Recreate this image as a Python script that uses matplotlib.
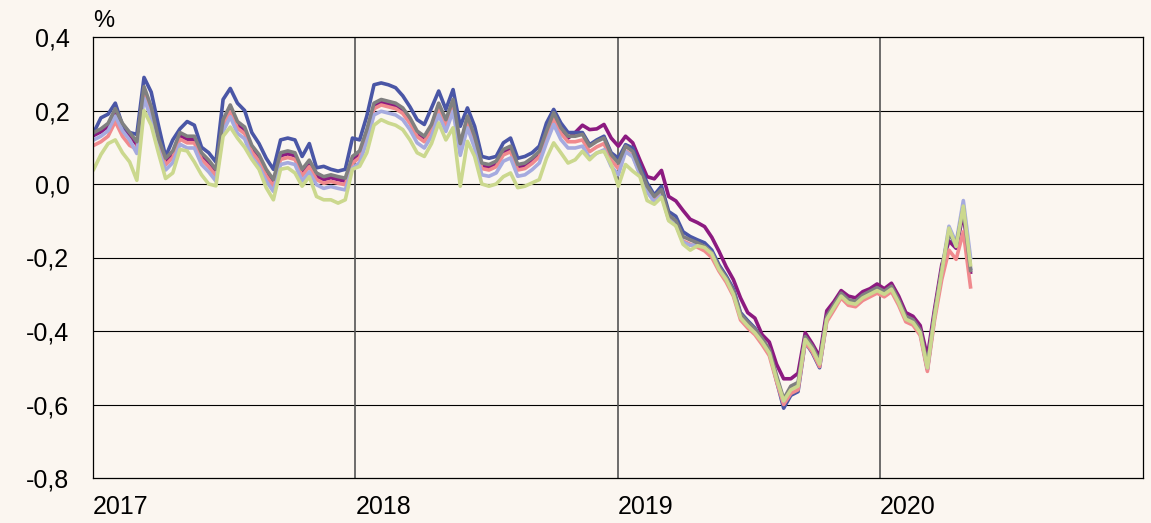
import matplotlib
matplotlib.use("Agg")
import matplotlib.pyplot as plt
import pandas as pd

plt.rcParams['font.family'] = ['Liberation Sans', 'DejaVu Sans']

# dates: one point every 10 days, starting 2 Jan 2017
dates = pd.date_range('2017-01-02', periods=123, freq='10D')

blue = [0.14, 0.18, 0.19, 0.22, 0.16, 0.14, 0.135, 0.29, 0.25, 0.16,
        0.075, 0.12, 0.15, 0.17, 0.16, 0.1, 0.085, 0.06, 0.23, 0.26,
        0.22, 0.2, 0.14, 0.11, 0.07, 0.04, 0.12, 0.125, 0.12, 0.075,
        0.11, 0.044, 0.048, 0.04, 0.035, 0.04, 0.125, 0.12, 0.185, 0.27,
        0.275, 0.27, 0.262, 0.24, 0.21, 0.175, 0.162, 0.207, 0.253, 0.203,
        0.257, 0.157, 0.207, 0.157, 0.075, 0.07, 0.075, 0.112, 0.125, 0.07,
        0.075, 0.085, 0.103, 0.166, 0.203, 0.166, 0.14, 0.14, 0.14, 0.107,
        0.12, 0.13, 0.085, 0.07, 0.107, 0.098, 0.05, 0.003, -0.03, -0.006,
        -0.075, -0.088, -0.13, -0.143, -0.152, -0.16, -0.18, -0.22, -0.25, -0.285,
        -0.35, -0.372, -0.392, -0.425, -0.455, -0.535, -0.61, -0.575, -0.565, -0.43,
        -0.46, -0.5, -0.37, -0.336, -0.305, -0.323, -0.327, -0.31, -0.3, -0.29,
        -0.3, -0.286, -0.323, -0.368, -0.377, -0.405, -0.505, -0.36, -0.24, -0.13,
        -0.17, -0.06, -0.23]

purple = [0.132, 0.142, 0.157, 0.197, 0.157, 0.132, 0.107, 0.257, 0.202, 0.117,
          0.062, 0.082, 0.132, 0.122, 0.122, 0.077, 0.057, 0.032, 0.167, 0.207,
          0.162, 0.147, 0.097, 0.072, 0.032, 0.004, 0.077, 0.082, 0.077, 0.032,
          0.057, 0.022, 0.012, 0.017, 0.012, 0.008, 0.067, 0.082, 0.14, 0.212,
          0.222, 0.217, 0.212, 0.199, 0.172, 0.136, 0.122, 0.154, 0.212, 0.167,
          0.222, 0.102, 0.177, 0.122, 0.049, 0.045, 0.054, 0.086, 0.095, 0.045,
          0.049, 0.063, 0.081, 0.136, 0.186, 0.145, 0.125, 0.14, 0.16, 0.148,
          0.15, 0.162, 0.125, 0.103, 0.13, 0.112, 0.065, 0.02, 0.014, 0.037,
          -0.034, -0.046, -0.072, -0.096, -0.105, -0.116, -0.145, -0.183, -0.225, -0.26,
          -0.31, -0.35, -0.365, -0.41, -0.43, -0.49, -0.53, -0.53, -0.515, -0.405,
          -0.435, -0.47, -0.345, -0.32, -0.29, -0.305, -0.31, -0.293, -0.285, -0.272,
          -0.285, -0.27, -0.305, -0.35, -0.36, -0.385, -0.47, -0.34, -0.22, -0.155,
          -0.175, -0.08, -0.24]

grey = [0.14, 0.15, 0.165, 0.205, 0.165, 0.14, 0.115, 0.265, 0.21, 0.125,
        0.07, 0.09, 0.14, 0.13, 0.13, 0.085, 0.065, 0.04, 0.175, 0.215,
        0.17, 0.155, 0.105, 0.08, 0.04, 0.012, 0.085, 0.09, 0.085, 0.04,
        0.065, 0.03, 0.02, 0.025, 0.02, 0.016, 0.075, 0.09, 0.148, 0.22,
        0.23, 0.225, 0.22, 0.207, 0.18, 0.144, 0.13, 0.162, 0.22, 0.175,
        0.23, 0.11, 0.185, 0.13, 0.057, 0.053, 0.062, 0.094, 0.103, 0.053,
        0.057, 0.071, 0.089, 0.144, 0.194, 0.153, 0.13, 0.13, 0.135, 0.103,
        0.116, 0.125, 0.08, 0.057, 0.103, 0.089, 0.04, -0.006, -0.034, -0.015,
        -0.084, -0.1, -0.143, -0.152, -0.16, -0.17, -0.188, -0.225, -0.255, -0.29,
        -0.354, -0.376, -0.395, -0.42, -0.45, -0.52, -0.585, -0.55, -0.54, -0.415,
        -0.442, -0.482, -0.36, -0.328, -0.297, -0.315, -0.319, -0.302, -0.292, -0.282,
        -0.292, -0.278, -0.315, -0.36, -0.369, -0.397, -0.492, -0.352, -0.232, -0.13,
        -0.165, -0.065, -0.235]

pink = [0.105, 0.115, 0.13, 0.17, 0.13, 0.105, 0.095, 0.245, 0.19, 0.105,
        0.052, 0.072, 0.122, 0.112, 0.112, 0.067, 0.047, 0.022, 0.157, 0.197,
        0.152, 0.137, 0.087, 0.062, 0.022, -0.006, 0.067, 0.072, 0.067, 0.022,
        0.047, 0.012, 0.002, 0.007, 0.002, -0.002, 0.057, 0.072, 0.13, 0.205,
        0.215, 0.21, 0.205, 0.192, 0.165, 0.129, 0.115, 0.147, 0.205, 0.16,
        0.215, 0.095, 0.17, 0.115, 0.042, 0.038, 0.047, 0.079, 0.088, 0.038,
        0.042, 0.056, 0.074, 0.129, 0.179, 0.138, 0.115, 0.115, 0.12, 0.088,
        0.101, 0.11, 0.065, 0.042, 0.09, 0.077, 0.028, -0.018, -0.046, -0.027,
        -0.096, -0.112, -0.155, -0.164, -0.172, -0.182, -0.2, -0.237, -0.267, -0.305,
        -0.37, -0.392, -0.41, -0.437, -0.467, -0.537, -0.6, -0.57, -0.56, -0.43,
        -0.457, -0.497, -0.375, -0.343, -0.31, -0.33, -0.334, -0.317, -0.307, -0.297,
        -0.307, -0.293, -0.33, -0.375, -0.384, -0.412, -0.51, -0.37, -0.26, -0.18,
        -0.205, -0.13, -0.28]

lavender = [0.12, 0.13, 0.145, 0.185, 0.145, 0.12, 0.083, 0.233, 0.178, 0.093,
            0.038, 0.058, 0.108, 0.098, 0.098, 0.053, 0.033, 0.008, 0.143, 0.183,
            0.138, 0.123, 0.073, 0.048, 0.008, -0.02, 0.053, 0.058, 0.053, 0.008,
            0.033, -0.002, -0.012, -0.007, -0.012, -0.016, 0.043, 0.058, 0.116, 0.188,
            0.198, 0.193, 0.188, 0.175, 0.148, 0.112, 0.098, 0.13, 0.188, 0.143,
            0.198, 0.078, 0.153, 0.098, 0.025, 0.021, 0.03, 0.062, 0.071, 0.021,
            0.025, 0.039, 0.057, 0.112, 0.162, 0.121, 0.098, 0.098, 0.103, 0.071,
            0.084, 0.093, 0.048, 0.025, 0.088, 0.074, 0.025, -0.021, -0.049, -0.03,
            -0.097, -0.111, -0.158, -0.167, -0.165, -0.17, -0.187, -0.229, -0.257, -0.297,
            -0.361, -0.383, -0.402, -0.427, -0.457, -0.527, -0.59, -0.557, -0.547, -0.42,
            -0.447, -0.487, -0.365, -0.333, -0.302, -0.32, -0.324, -0.307, -0.297, -0.287,
            -0.297, -0.283, -0.32, -0.365, -0.374, -0.402, -0.5, -0.355, -0.235, -0.115,
            -0.16, -0.045, -0.2]

green = [0.04, 0.08, 0.11, 0.12, 0.085, 0.06, 0.01, 0.2, 0.16, 0.085,
         0.015, 0.03, 0.094, 0.09, 0.06, 0.025, 0.0, -0.005, 0.13, 0.155,
         0.125, 0.1, 0.067, 0.04, -0.01, -0.043, 0.04, 0.044, 0.03, -0.006,
         0.02, -0.034, -0.043, -0.043, -0.052, -0.043, 0.04, 0.048, 0.085, 0.16,
         0.175, 0.166, 0.16, 0.148, 0.12, 0.085, 0.075, 0.11, 0.166, 0.12,
         0.153, -0.006, 0.116, 0.075, 0.0, -0.006, 0.0, 0.02, 0.03, -0.01,
         -0.006, 0.003, 0.012, 0.07, 0.112, 0.085, 0.057, 0.066, 0.089, 0.066,
         0.085, 0.089, 0.053, -0.006, 0.053, 0.035, 0.02, -0.045, -0.055, -0.036,
         -0.1, -0.114, -0.164, -0.18, -0.168, -0.173, -0.19, -0.232, -0.26, -0.3,
         -0.364, -0.386, -0.405, -0.43, -0.46, -0.53, -0.59, -0.56, -0.55, -0.423,
         -0.45, -0.49, -0.368, -0.336, -0.305, -0.323, -0.327, -0.31, -0.3, -0.29,
         -0.3, -0.286, -0.323, -0.368, -0.377, -0.405, -0.5, -0.36, -0.24, -0.12,
         -0.17, -0.06, -0.22]

years = [2017, 2018, 2019, 2020]
y_ticks = [-0.8, -0.6, -0.4, -0.2, 0.0, 0.2, 0.4]
y_labels = ["-0,8", "-0,6", "-0,4", "-0,2", "0,0", "0,2", "0,4"]

bg = "#fbf6f0"
fig = plt.figure(figsize=(11.51, 5.23), dpi=100, facecolor=bg)
ax = fig.add_axes([93 / 1151, 45 / 523, 1050 / 1151, 441 / 523])
ax.set_facecolor(bg)

# grid first, lines on top
for y in y_ticks[1:-1]:
    ax.axhline(y, color="black", lw=0.8, zorder=1)
for yr in years[1:]:
    ax.axvline(pd.Timestamp(f"{yr}-01-01"), color="#555555", lw=1.2, zorder=1)

series = [
    (purple, "#8c1a80"),
    (blue, "#4a56a6"),
    (pink, "#f08a8e"),
    (lavender, "#a5aadf"),
    (grey, "#808080"),
    (green, "#cbd88e"),
]
for vals, col in series:
    ax.plot(dates, vals, color=col, lw=2.6, zorder=2, solid_joinstyle="round")

ax.set_xlim(pd.Timestamp("2017-01-01"), pd.Timestamp("2021-01-01"))
ax.set_ylim(-0.8, 0.4)
ax.set_xticks([pd.Timestamp(f"{yr}-01-01") for yr in years])
ax.set_xticklabels([str(yr) for yr in years])
ax.set_yticks(y_ticks)
ax.set_yticklabels(y_labels)
for lbl in ax.get_xticklabels():
    lbl.set_horizontalalignment("left")
    lbl.set_x(lbl.get_position()[0])
ax.tick_params(axis="both", length=0, labelsize=18, colors="black")
ax.tick_params(axis="y", pad=17)
ax.tick_params(axis="x", pad=12)

for sp in ax.spines.values():
    sp.set_color("black")
    sp.set_linewidth(0.9)

fig.text(93 / 1151, 1 - 27 / 523, "%", fontsize=17, ha="left", va="baseline")

fig.savefig("out.png", dpi=100, facecolor=bg)
